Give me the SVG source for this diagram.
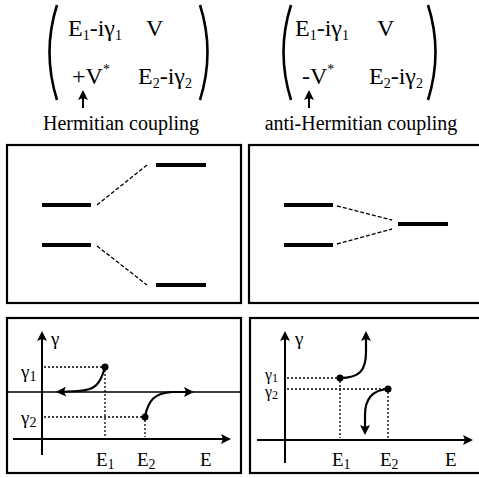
<svg xmlns="http://www.w3.org/2000/svg" width="479" height="478" viewBox="0 0 479 478" font-family="'Liberation Serif','DejaVu Serif',serif">
<style>
text{font-family:"Liberation Serif","DejaVu Serif",serif;fill:#000}
.m{font-size:24px}
.s{font-size:14px}
.lab{font-size:20px}
.ax{font-size:19px}
.box{fill:none;stroke:#000;stroke-width:2.2}
.par{fill:none;stroke:#000;stroke-width:2.6}
.lvl{stroke:#000;stroke-width:4}
.dash{stroke:#000;stroke-width:1.3;stroke-dasharray:4,2;fill:none}
.dot{stroke:#000;stroke-width:1.3;stroke-dasharray:2,2;fill:none}
.axis{stroke:#000;stroke-width:2;fill:none}
.crv{stroke:#000;stroke-width:2.2;fill:none}
</style>
<defs>
<marker id="ahb" viewBox="0 0 10 10" refX="8" refY="5" markerWidth="14" markerHeight="10" orient="auto" markerUnits="userSpaceOnUse"><path d="M0,0 L10,5 L0,10 L2,5 z" fill="#000"/></marker>
</defs>

<g id="matrix-left">
<path class="par" d="M57,5 Q42,52 57,100"/>
<path class="par" d="M200,5 Q215,52 200,100"/>
<text class="m" x="68" y="36">E<tspan class="s" dy="4">1</tspan><tspan dy="-4">-iγ</tspan><tspan class="s" dy="4">1</tspan></text>
<text class="m" x="146" y="36">V</text>
<text class="m" x="72" y="84">+V<tspan class="s" dy="-10">*</tspan></text>
<text class="m" x="138" y="84">E<tspan class="s" dy="4">2</tspan><tspan dy="-4">-iγ</tspan><tspan class="s" dy="4">2</tspan></text>
<line x1="83" y1="108" x2="83" y2="92" stroke="#000" stroke-width="2" marker-end="url(#ahb)"/>
<text class="lab" x="121" y="130" text-anchor="middle">Hermitian coupling</text>
</g>

<g id="matrix-right">
<path class="par" d="M291,5 Q276,52 291,100"/>
<path class="par" d="M428,5 Q443,52 428,100"/>
<text class="m" x="295" y="36">E<tspan class="s" dy="4">1</tspan><tspan dy="-4">-iγ</tspan><tspan class="s" dy="4">1</tspan></text>
<text class="m" x="377" y="36">V</text>
<text class="m" x="302" y="84">-V<tspan class="s" dy="-10">*</tspan></text>
<text class="m" x="369" y="84">E<tspan class="s" dy="4">2</tspan><tspan dy="-4">-iγ</tspan><tspan class="s" dy="4">2</tspan></text>
<line x1="309" y1="108" x2="309" y2="92" stroke="#000" stroke-width="2" marker-end="url(#ahb)"/>
<text class="lab" x="361" y="130" text-anchor="middle">anti-Hermitian coupling</text>
</g>

<g id="levels-hermitian">
<rect class="box" x="7" y="145" width="234" height="158"/>
<line class="lvl" x1="42" y1="205" x2="91" y2="205"/>
<line class="lvl" x1="42" y1="245" x2="91" y2="245"/>
<line class="lvl" x1="156" y1="165" x2="206" y2="165"/>
<line class="lvl" x1="156" y1="285" x2="206" y2="285" stroke-width="3.5"/>
<line class="dash" x1="97" y1="205" x2="147" y2="165"/>
<line class="dash" x1="97" y1="246" x2="147" y2="285"/>
</g>

<g id="levels-antihermitian">
<rect class="box" x="249" y="145" width="232" height="158"/>
<line class="lvl" x1="284" y1="205" x2="333" y2="205"/>
<line class="lvl" x1="284" y1="245" x2="333" y2="245"/>
<line class="lvl" x1="398" y1="224" x2="448" y2="224" stroke-width="3"/>
<line class="dash" x1="337" y1="206" x2="392" y2="220"/>
<line class="dash" x1="337" y1="244" x2="392" y2="229"/>
</g>

<g id="plot-hermitian">
<rect class="box" x="7" y="318" width="234" height="155"/>
<line class="axis" x1="42" y1="455" x2="42" y2="333" marker-end="url(#ahb)"/>
<line class="axis" x1="13" y1="439" x2="229" y2="439" marker-end="url(#ahb)"/>
<line stroke="#000" stroke-width="1.5" x1="7" y1="392" x2="241" y2="392"/>
<text class="ax" x="51" y="345">γ</text>
<text class="ax" x="21" y="378">γ<tspan class="s" dy="3">1</tspan></text>
<text class="ax" x="21" y="424">γ<tspan class="s" dy="3">2</tspan></text>
<polyline class="dot" points="44,367 105,367 105,437"/>
<polyline class="dot" points="44,417 145,417 145,437"/>
<circle cx="105" cy="367" r="3.5"/>
<circle cx="145" cy="417" r="3.5"/>
<path class="crv" d="M105,367 C100,385 95,390 78,391 L58,392" marker-end="url(#ahb)"/>
<path class="crv" d="M145,417 C148,400 155,393 172,392 L192,392" marker-end="url(#ahb)"/>
<text class="ax" x="96" y="466">E<tspan class="s" dy="3">1</tspan></text>
<text class="ax" x="137" y="466">E<tspan class="s" dy="3">2</tspan></text>
<text class="ax" x="200" y="466">E</text>
</g>

<g id="plot-antihermitian">
<rect class="box" x="250" y="318" width="231" height="155"/>
<line class="axis" x1="285" y1="463" x2="285" y2="333" marker-end="url(#ahb)"/>
<line class="axis" x1="257" y1="440" x2="471" y2="440" marker-end="url(#ahb)"/>
<text class="ax" x="295" y="345">γ</text>
<text x="265" y="380" font-size="16">γ<tspan font-size="12" dy="2">1</tspan></text>
<text x="265" y="397" font-size="16">γ<tspan font-size="12" dy="2">2</tspan></text>
<polyline class="dot" points="287,378 340,378 340,438"/>
<polyline class="dot" points="287,389 388,389 388,438"/>
<circle cx="340" cy="378" r="3.5"/>
<circle cx="388" cy="389" r="3.5"/>
<path class="crv" d="M340,378 C360,378 366,370 366,352 L366,333" marker-end="url(#ahb)"/>
<path class="crv" d="M388,389 C372,390 365,400 365,415 L365,433" marker-end="url(#ahb)"/>
<text class="ax" x="332" y="466">E<tspan class="s" dy="3">1</tspan></text>
<text class="ax" x="380" y="466">E<tspan class="s" dy="3">2</tspan></text>
<text class="ax" x="445" y="466">E</text>
</g>
</svg>
